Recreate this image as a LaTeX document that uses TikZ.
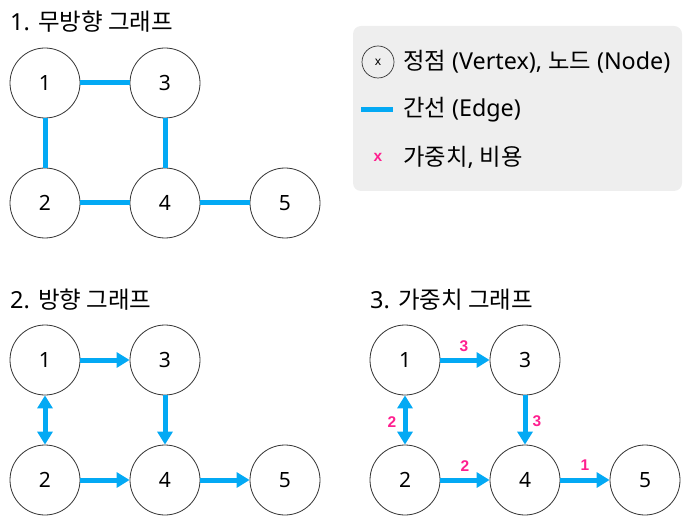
\documentclass[tikz,border=0pt]{standalone}
\usepackage{fontspec}
\setmainfont{Noto Sans}
\newfontfamily\kr{Noto Sans CJK KR}
\newfontfamily\wfont{Liberation Sans}
\usetikzlibrary{arrows.meta}
\definecolor{edgeblue}{HTML}{03A9F4}
\definecolor{wpink}{HTML}{FF1F8F}
\definecolor{legbg}{HTML}{EEEEEE}
\definecolor{ringgray}{HTML}{333333}
\begin{document}
\begin{tikzpicture}[x=1pt,y=-1pt,
  vtx/.style={circle,draw=ringgray,line width=0.8pt,fill=white,minimum size=70pt,inner sep=0pt,font=\fontsize{21}{25}\selectfont},
  edge/.style={draw=edgeblue,line width=5pt},
  darr/.style={edge,-{Triangle[length=13pt,width=15pt]}},
  barr/.style={edge,{Triangle[length=13pt,width=15pt]}-{Triangle[length=13pt,width=15pt]}},
  ttl/.style={anchor=west,inner sep=0pt,font=\fontsize{23.5}{27}\selectfont},
  wlab/.style={text=wpink,inner sep=0pt,font=\wfont\fontsize{15.5}{18}\selectfont\bfseries},
  legtxt/.style={anchor=west,inner sep=0pt,font=\fontsize{23.3}{27}\selectfont}]
\useasboundingbox (0,0) rectangle (692,526);
% Legend
\fill[legbg,rounded corners=8pt] (353,26) rectangle (682,191);
\node[circle,draw=ringgray,line width=0.7pt,minimum size=32pt,inner sep=0pt,font=\fontsize{12}{13}\selectfont] (lv) at (378,62) {x};
\node[legtxt] (lvt) at (403,62) {{\kr 정점} (Vertex), {\kr 노드} (Node)};
\coordinate (la) at (361,110);
\coordinate (lb) at (393,110);
\draw[edge] (la) -- (lb);
\node[legtxt] (let) at (403,110) {{\kr 간선} (Edge)};
\node[wlab] (lw) at (378,157) {x};
\node[legtxt] (lwt) at (403,157) {{\kr 가중치}, {\kr 비용}};
% Graph 1
\node[ttl] (t1) at (10,22) {1. {\kr 무방향 그래프}};
\node[vtx] (a1) at (45,83) {1};
\node[vtx] (a3) at (165,83) {3};
\node[vtx] (a2) at (45,203) {2};
\node[vtx] (a4) at (165,203) {4};
\node[vtx] (a5) at (285,203) {5};
\draw[edge] (a1) -- (a3);
\draw[edge] (a1) -- (a2);
\draw[edge] (a3) -- (a4);
\draw[edge] (a2) -- (a4);
\draw[edge] (a4) -- (a5);
% Graph 2
\node[ttl] (t2) at (10,300) {2. {\kr 방향 그래프}};
\node[vtx] (b1) at (45,360) {1};
\node[vtx] (b3) at (165,360) {3};
\node[vtx] (b2) at (45,480) {2};
\node[vtx] (b4) at (165,480) {4};
\node[vtx] (b5) at (285,480) {5};
\draw[darr] (b1) -- (b3);
\draw[barr] (b1) -- (b2);
\draw[darr] (b3) -- (b4);
\draw[darr] (b2) -- (b4);
\draw[darr] (b4) -- (b5);
% Graph 3
\node[ttl] (t3) at (370,300) {3. {\kr 가중치 그래프}};
\node[vtx] (c1) at (405,360) {1};
\node[vtx] (c3) at (525,360) {3};
\node[vtx] (c2) at (405,480) {2};
\node[vtx] (c4) at (525,480) {4};
\node[vtx] (c5) at (645,480) {5};
\draw[darr] (c1) -- (c3);
\draw[barr] (c1) -- (c2);
\draw[darr] (c3) -- (c4);
\draw[darr] (c2) -- (c4);
\draw[darr] (c4) -- (c5);
\node[wlab] (w13) at (464,346) {3};
\node[wlab] (w34) at (537,421) {3};
\node[wlab] (w12) at (392,422) {2};
\node[wlab] (w24) at (465,466) {2};
\node[wlab] (w45) at (585,465) {1};
\end{tikzpicture}
\end{document}
